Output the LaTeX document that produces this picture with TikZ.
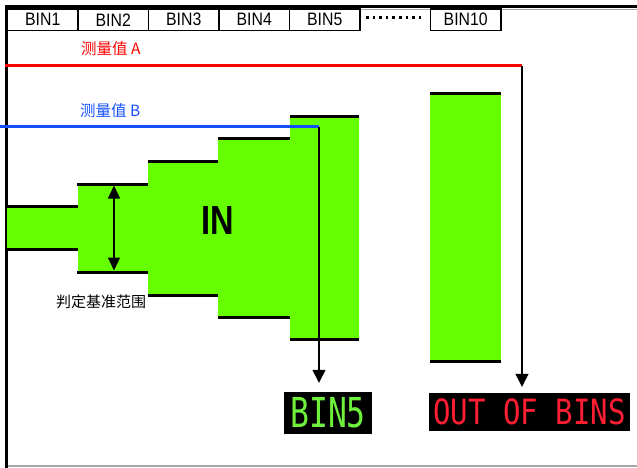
\documentclass[tikz,border=0pt]{standalone}
\usepackage{fontspec}
\usepackage{graphicx}
\setmainfont{Liberation Sans}
\newfontfamily\cjkf{Noto Sans CJK SC}
\newfontfamily\lcdf{DejaVu Sans Mono}
\usetikzlibrary{arrows.meta}
\definecolor{lime}{RGB}{102,255,0}
\definecolor{lcdgreen}{RGB}{110,240,60}
\definecolor{lcdred}{RGB}{255,30,50}
\definecolor{blueline}{RGB}{20,80,255}
\newcommand{\tabtxt}[1]{\scalebox{0.88}[1]{\fontsize{18}{18}\selectfont #1}}
\tikzset{
  tab/.style={draw=black, line width=1.3pt, fill=white, minimum width=70.5pt, minimum height=21.5pt, inner sep=0pt},
  edge/.style={line width=3pt, black},
  conn/.style={line width=1.3pt, black, -{Triangle[length=13pt,width=13pt]}},
  lcd/.style={fill=black, inner sep=0pt},
}
\begin{document}
\begin{tikzpicture}[x=1pt,y=-1pt]
\useasboundingbox (0,0) rectangle (637,468);
% frame
\draw[gray!70, line width=1pt] (5,9.8) -- (637,9.8);
\draw[black, line width=3pt] (5,7) -- (637,7);
\draw[gray!70, line width=1.5pt] (5,466) -- (637,466);
\draw[black, line width=3pt] (6,5.5) -- (6,468);
% tabs
\node[tab] (t1) at (42.75,19.75) {\tabtxt{BIN1}};
\node[tab] (t2) at (113.25,19.75) {\tabtxt{BIN2}};
\node[tab] (t3) at (183.75,19.75) {\tabtxt{BIN3}};
\node[tab] (t4) at (254.25,19.75) {\tabtxt{BIN4}};
\node[tab] (t5) at (324.75,19.75) {\tabtxt{BIN5}};
\node[tab] (t10) at (465.75,19.75) {\tabtxt{BIN10}};
\draw[line width=2.6pt, dash pattern=on 2.6pt off 4pt] (366,17.5) -- (424,17.5);
% green steps
\fill[lime] (7,206) -- (78,206) -- (78,184) -- (148,184) -- (148,161) -- (218,161) -- (218,139) -- (290,139) -- (290,117) -- (359,117) -- (359,339) -- (290,339) -- (290,317) -- (218,317) -- (218,295) -- (148,295) -- (148,272) -- (78,272) -- (78,249) -- (7,249) -- cycle;
\draw[edge] (7,206) -- (78,206);
\draw[edge] (7,249) -- (78,249);
\draw[edge] (77,184) -- (148,184);
\draw[edge] (77,272) -- (148,272);
\draw[edge] (148,161) -- (218,161);
\draw[edge] (148,295) -- (218,295);
\draw[edge] (218,139) -- (290,139);
\draw[edge] (218,317) -- (290,317);
\draw[edge] (290,117) -- (359,117);
\draw[edge] (290,339) -- (359,339);
% out-of-bins column
\fill[lime] (430,94) rectangle (501,361);
\draw[edge] (430,94) -- (501,94);
\draw[edge] (430,361) -- (501,361);
% range arrow
\coordinate (rtop) at (114,185.5);
\coordinate (rbot) at (114,270.5);
\draw[line width=1.3pt, {Triangle[length=13pt,width=12pt]}-{Triangle[length=13pt,width=12pt]}] (rtop) -- (rbot);
\node (rng) at (101,302) {\cjkf\fontsize{15}{15}\selectfont 判定基准范围};
\node (in) at (218,220) {\fontsize{37}{37}\selectfont\bfseries\scalebox{0.88}[1.1]{IN}};
% displays
\node[lcd, minimum width=88pt, minimum height=42pt] (bin5) at (328,413) {\lcdf\color{lcdgreen}\scalebox{0.95}[1.25]{\fontsize{33}{33}\selectfont BIN5}};
\node[lcd, minimum width=201pt, minimum height=38pt] (out) at (529.5,412) {\lcdf\color{lcdred}\scalebox{1}[1.2]{\fontsize{29}{29}\selectfont OUT OF BINS}};
% measurement A
\node[anchor=west, red, inner sep=0pt] (la) at (81,49) {\cjkf\fontsize{15.5}{15.5}\selectfont 测量值 A};
\coordinate (as) at (5,66);
\coordinate (ae) at (522,66);
\draw[red, line width=3pt] (as) -- (ae);
\draw[conn, shorten >=6pt] (ae) -- (ae |- out.north);
% measurement B
\node[anchor=west, blueline, inner sep=0pt] (lb) at (80,111) {\cjkf\fontsize{15.5}{15.5}\selectfont 测量值 B};
\coordinate (bs) at (0,127);
\coordinate (be) at (319,127);
\draw[blueline, line width=3pt] (bs) -- (be);
\draw[conn, shorten >=9pt] (be) -- (be |- bin5.north);
\end{tikzpicture}
\end{document}
